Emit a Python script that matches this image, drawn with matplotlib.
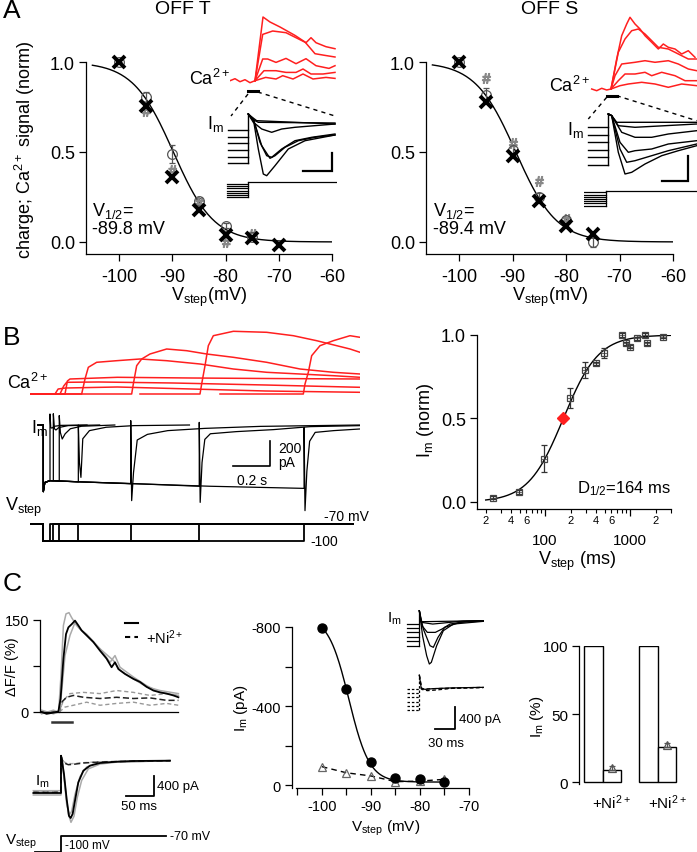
import numpy as np
import matplotlib
matplotlib.use('Agg')
import matplotlib.pyplot as plt
from matplotlib.lines import Line2D
from matplotlib.ticker import FixedLocator, FixedFormatter

plt.rcParams['font.family'] = ['Liberation Sans', 'DejaVu Sans']
plt.rcParams['mathtext.fontset'] = 'custom'
plt.rcParams['mathtext.rm'] = 'Liberation Sans'
plt.rcParams['mathtext.it'] = 'Liberation Sans:italic'
plt.rcParams['mathtext.default'] = 'regular'
plt.rcParams['axes.unicode_minus'] = False
plt.rcParams['axes.linewidth'] = 0.9

RED = '#ff1f1f'

# ---------------- DATA ----------------
# Panel A, OFF T
aT_x_v = [-100, -95, -90, -85, -80, -75, -70]
aT_x_y = [1.0, 0.755, 0.36, 0.176, 0.04, 0.02, -0.015]
aT_c_v = [-100, -95, -90, -85, -80, -75]
aT_c_y = [1.0, 0.805, 0.49, 0.225, 0.09, 0.03]
aT_c_e = [0.0, 0.03, 0.05, 0.02, 0.015, 0.01]
aT_h_v = [-95, -90, -85, -80, -75]
aT_h_y = [0.73, 0.40, 0.22, 0.0, 0.046]
aT_vhalf = -89.8
# Panel A, OFF S
aS_x_v = [-100, -95, -90, -85, -80, -75]
aS_x_y = [1.0, 0.775, 0.48, 0.23, 0.09, 0.045]
aS_c_v = [-100, -95, -90, -85, -80, -75]
aS_c_y = [1.0, 0.815, 0.51, 0.25, 0.12, 0.0]
aS_c_e = [0.0, 0.04, 0.03, 0.02, 0.02, 0.03]
aS_h_v = [-95, -90, -85, -80]
aS_h_y = [0.91, 0.55, 0.34, 0.125]
aS_vhalf = -89.4
A_SLOPE = 3.8

# A insets: Ca traces (t, amplitude)
caT_base_t = [0, 5, 10, 15, 20, 25]
caT_base_y = [0, 2, -1, 1, -2, 0]
caT_traces = [
    ([25, 33, 40, 50, 65, 75, 85, 95, 105], [0, 63.7, 58.7, 53.7, 45.3, 38.7, 27, 25.3, 23.7]),
    ([25, 32.7, 42.7, 56, 66, 76, 81, 86, 96, 105], [0, 46.3, 49.7, 48, 43, 38, 43, 38, 34, 32]),
    ([25, 32.7, 37.7, 46, 56, 66, 76, 86, 99, 105], [0, 21.7, 21.7, 18.3, 22.3, 17, 22, 15, 12.3, 15]),
    ([25, 34, 46, 56, 66, 73, 81, 93, 105], [0, 10, 10, 8.3, 8.3, 11.7, 6.7, 6.7, 8.3]),
    ([25, 35.7, 46, 52.7, 63, 73, 83, 96, 105], [0, 3.3, 1.7, 5, 1.7, 6.7, 1.7, 3.3, 2.3]),
]
caS_base_t = [1.7, 6.7, 11.7, 16.7, 21]
caS_base_y = [0, -1.7, 0.7, -1, 0]
caS_traces = [
    ([21, 26.7, 31.7, 36.7, 40, 45, 50, 55, 61.7, 68.3, 73.3, 78.3, 85, 91.7, 98.3, 105],
     [0, 30, 53.3, 65, 71.7, 65, 60, 53.3, 46.7, 40, 45, 41.7, 40, 35, 38.3, 31.7]),
    ([21, 28.3, 35, 41.7, 48.3, 55, 61.7, 68.3, 78.3, 85, 91.7, 98.3, 106.7],
     [0, 36.7, 50, 58.3, 60, 55, 48.3, 41.7, 40, 36.7, 33.3, 30, 30]),
    ([21, 25, 31.7, 45, 55, 65, 78.3, 88.3, 98.3, 106.7], [0, 13.3, 25, 26.7, 28.3, 26.7, 28.3, 25, 20, 18.3]),
    ([21, 28.3, 35, 45, 55, 61.7, 71.7, 85, 95, 106.7], [0, 8.3, 15, 15, 16.7, 13.3, 16.7, 13.3, 8.3, 8.3]),
    ([21, 30, 38.3, 51.7, 65, 78.3, 91.7, 106.7], [0, 3.3, 5, 6.7, 5, 1.7, 5, 3.3]),
]
# A insets: membrane current traces (t, I) after the step
imT_pre = [-6, -12.7, -19.3, -26, -32.7, -39.3]
imT_spike = 10
imT_traces = [
    ([1.7, 8.4, 86.7], [8.3, 3.3, 0]),
    ([3.4, 10, 86.7], [5, 1.7, 1]),
    ([5, 13.4, 23.4, 33.4, 46.7, 86.7], [1.7, -5, -8.3, -5, -3.3, 0]),
    ([5, 11.7, 18.4, 23.4, 33.4, 46.7, 63.4, 86.7], [5, -18.3, -31.7, -33.3, -25, -16.7, -13.3, -10]),
    ([5, 13.4, 21.7, 26.7, 36.7, 50, 66.7, 86.7], [5, -21.7, -34.3, -31.7, -23.3, -16.7, -13.3, -11]),
    ([5, 10, 15, 18.4, 26.7, 40, 56.7, 86.7], [5, -25, -50, -51.7, -41.7, -25, -16.7, -11]),
]
imS_pre = [-5, -12.7, -20, -27.7, -35, -42.7]
imS_spike = 8.3
imS_traces = [
    ([3.4, 8.4, 88.4], [6.6, 0, 0]),
    ([3.4, 10, 26.7, 88.4], [6.6, -3.4, -5, -1.7]),
    ([3.4, 13.4, 26.7, 43.4, 60, 88.4], [6.6, -10, -15, -15, -11.7, -8.4]),
    ([3.4, 11.7, 20, 26.7, 43.4, 60, 88.4], [6.6, -20, -30, -28.4, -26.7, -21.7, -18.4]),
    ([3.4, 11.7, 18.4, 26.7, 43.4, 60, 88.4], [6.6, -26.7, -40, -38.4, -33.4, -28.4, -21.7]),
    ([3.4, 10, 16.7, 23.4, 36.7, 53.4, 70, 88.4], [6.6, -30, -51.7, -50, -41.7, -33.4, -28.4, -23.4]),
]
step_pre_mv = [-100, -95, -90, -85, -80, -75, -70]
step_post_mv = -66

# Panel B left: step durations (ms)
b_dur = [36, 54, 86, 189, 472, 842, 1408]
b_hold_t = [0, 8, 36, 200, 500, 900]
b_hold_I = [-533, -460, -445, -455, -470, -490]
b_tails = [
    ([0, 0, 4, 10, 25, 60, 200], [-445, 88, -20, -25, -10, -3, 0]),
    ([0, 0, 6, 14, 30, 80, 250], [-446, 90, -30, -40, -20, -5, 0]),
    ([0, 0, 6, 16, 32, 60, 120, 300], [-447, 75, -60, -112, -70, -30, -10, 0]),
    ([0, 0, 6, 14, 24, 60, 150, 300, 600], [-455, 0, -300, -419, -110, -45, -18, -5, 0]),
    ([0, 0, 5, 15, 35, 90, 200, 400, 700, 1240], [-470, 35, -605, -380, -120, -75, -45, -27, -11, 0]),
    ([0, 0, 5, 15, 30, 60, 200, 400, 600, 870], [-490, 21, -619, -300, -115, -70, -53, -37, -13, -5]),
    ([0, 0, 5, 15, 30, 60, 160, 300], [-507, -19, -685, -370, -130, -59, -45, -32]),
]
b_im_start = -29
b_ca = [
    ([-72, 63, 80, 120, 400, 800, 1200, 1710], [0, 0, 5, 6, 7, 5, 3, 1.7]),
    ([-72, 90, 110, 126, 300, 700, 1200, 1710], [0, 0, 8, 11.7, 12, 11, 9, 6.7]),
    ([-72, 117, 130, 144, 400, 800, 1200, 1710], [0, 0, 13, 15, 16.7, 16, 15.5, 15]),
    ([-72, 207, 225, 243, 288, 396, 522, 666, 846, 1026, 1206, 1386, 1566, 1710],
     [0, 0, 15, 26.7, 31.7, 33.3, 35, 33.3, 30, 25, 21.7, 20, 18.3, 16.7]),
    ([-72, 477, 486, 504, 531, 576, 666, 774, 882, 1026, 1206, 1386, 1566, 1710],
     [0, 0, 10, 28.3, 35, 40, 45, 43.3, 40, 36.7, 31.7, 25, 21.7, 20]),
    ([522, 846, 855, 873, 891, 918, 1026, 1206, 1350, 1476, 1656, 1710],
     [0, 0, 10, 28.3, 48.3, 58.3, 62.7, 61.7, 58.3, 53.3, 45, 41.7]),
    ([954, 1404, 1413, 1431, 1449, 1494, 1566, 1656, 1710],
     [0, 0, 10, 21.7, 38.3, 48.3, 53.3, 58.3, 56.7]),
]

# Panel B right
br_x = [24.4, 49, 97, 197, 295, 398, 494, 806, 897, 1000, 1200, 1510, 1590, 2440]
br_y = [0.026, 0.06, 0.26, 0.62, 0.79, 0.83, 0.89, 1.0, 0.95, 0.93, 0.98, 1.0, 0.95, 0.99]
br_e = [0.01, 0.01, 0.08, 0.06, 0.05, 0.01, 0.03, 0.01, 0.01, 0.01, 0.01, 0.01, 0.01, 0.01]
br_d_half = 164
br_hill = 2.1

# Panel C left: dF/F traces (ms, %)
cf_black = ([8, 33, 67, 92, 103, 117, 130, 142, 158, 175, 192, 208, 233, 267, 300, 333, 358, 375, 392, 425, 467, 500, 533, 567, 600, 633, 667, 692],
            [0, -3, -1, 1, 22, 87, 127, 138, 143, 149, 141, 133, 125, 114, 100, 87, 73, 81, 70, 62, 54, 49, 41, 35, 32, 30, 27, 24])
cf_gray1 = ([8, 67, 93, 105, 117, 130, 145, 158, 183, 217, 267, 300, 350, 375, 400, 467, 533, 600, 692],
            [3, -3, 0, 60, 141, 160, 162, 154, 141, 130, 114, 103, 81, 92, 73, 57, 43, 32, 27])
cf_gray2 = ([8, 67, 97, 108, 125, 150, 175, 200, 233, 300, 367, 400, 467, 533, 600, 692],
            [-3, 3, -1, 32, 92, 125, 146, 135, 127, 103, 84, 68, 54, 41, 35, 30])
cf_ni_black = ([8, 97, 108, 133, 167, 217, 300, 383, 467, 550, 633, 692],
               [0, 0, 16, 24, 27, 24, 22, 24, 22, 23, 19, 19])
cf_ni_gray1 = ([97, 117, 150, 217, 300, 383, 467, 550, 633, 692], [0, 19, 30, 32, 30, 35, 32, 27, 30, 27])
cf_ni_gray2 = ([97, 125, 167, 233, 300, 383, 467, 550, 633, 692], [0, 8, 11, 16, 11, 14, 16, 11, 14, 11])
cf_bar = [58, 158]

# Panel C left: current traces (ms, pA)
ci_black = ([-50.6, 0, 0, 1.8, 5.5, 10.4, 14.6, 17.7, 21.4, 25.6, 31.7, 40.9, 53.1, 71.4, 101.9, 132.4, 199.5],
            [-669, -669, 103, 0, -276, -800, -1142, -1187, -1100, -830, -450, -207, -103, -48, -21, -7, 0])
ci_gray1 = ([-50.6, 0, 0, 3, 7.3, 13.4, 18.3, 23.8, 29.9, 37.8, 50, 71.4, 101.9, 199.5],
            [-621, -621, 103, -60, -500, -1100, -1276, -1150, -760, -410, -170, -70, -30, 0])
ci_gray2 = ([-50.6, 0, 0, 1.8, 5.5, 10.4, 15.3, 19.5, 25.6, 34.8, 47, 71.4, 199.5],
            [-710, -710, 103, 0, -350, -900, -1120, -1050, -700, -330, -130, -40, 0])
ci_ni_black = ([-50.6, 0, 0, 3, 7.3, 13.4, 22.6, 40.9, 71.4, 132.4, 199.5],
               [-655, -655, 103, 0, -55, -83, -76, -48, -28, -10, 0])
ci_ni_gray = ([-50.6, 0, 0, 4.3, 10.4, 19.5, 40.9, 71.4, 199.5],
              [-640, -640, 103, -14, -55, -62, -41, -21, -5])
cv_t = [-47.6, 0, 0, 193]
cv_v = [-100, -100, -70, -70]

# Panel C middle
cm_v = [-100, -95, -90, -85, -80, -75]
cm_ctrl = [-797, -484, -118, -37, -29, -15]
cm_ni = [-93, -62, -46, -17, -20, -29]
cm_fit = dict(amp=-839, vh=-94.5, k=2.1, off=-15)
cmi_pre = [-62, -142, -216, -296, -382, -475]
cmi_spike = 185
cmi_traces = [
    ([0, 2, 6, 96], [185, -18, -18, 0]),
    ([0, 3, 20, 36, 66, 96], [185, -30, -62, -43, -6, 0]),
    ([0, 4, 12, 24, 34, 46, 71, 96], [185, -93, -216, -216, -154, -62, -12, 0]),
    ([0, 6, 16, 21, 28, 38, 61, 96], [185, -154, -463, -493, -308, -123, -31, -6]),
    ([0, 5, 11, 15, 18, 26, 36, 51, 96], [185, -290, -648, -802, -771, -463, -185, -62, -12]),
]
cmn_pre = [-31, -111, -185, -265, -339, -419]
cmn_spike = 228
cmn_solid = ([0, 3, 10, 20, 45, 96], [228, -31, -37, -25, -12, 0])
cmn_dash = [([0, 4, 12, 25, 50, 96], [228, -40, -62, -50, -18, -6]),
            ([0, 3, 8, 20, 96], [228, -20, -31, -25, 0])]

# Panel C right
cr_pos = [0, 1, 3, 4]
cr_val = [100, 9, 100, 26]
cr_tri_x = [1, 4]
cr_tri_y = [10, 27]
cr_tri_e = [1.5, 1.5]

# ---------------- LAYOUT ----------------
W, H = 697, 853
fig = plt.figure(figsize=(W / 100, H / 100), dpi=100)


def box(x0, y0, x1, y1):
    return fig.add_axes([x0 / W, 1 - y1 / H, (x1 - x0) / W, (y1 - y0) / H])


def ftext(x, y, s, size=13, ha='left', va='center', **kw):
    fig.text(x / W, 1 - y / H, s, fontsize=size, ha=ha, va=va, **kw)


def fline(xs, ys, **kw):
    fig.add_artist(Line2D([x / W for x in xs], [1 - y / H for y in ys], **kw))


def noclip(container):
    for a in container.get_children():
        try:
            a.set_clip_on(False)
        except Exception:
            pass


def style_main(ax, size=13):
    for s in ('top', 'right'):
        ax.spines[s].set_visible(False)
    ax.tick_params(direction='out', length=5, width=0.9, labelsize=size, pad=3)


def draw_A(ax, xv, xy, cv, cy, ce, hv, hy, vhalf):
    vgrid = np.linspace(-105, -60, 200)
    ax.plot(vgrid, 1 / (1 + np.exp((vgrid - vhalf) / A_SLOPE)), color='k', lw=1)
    eb = ax.errorbar(cv, cy, yerr=ce, fmt='o', ms=7, mfc='none', mec='#555', mew=0.9,
                     ecolor='#555', elinewidth=0.9, capsize=2.5, zorder=3)
    noclip(eb)
    ax.plot(hv, hy, ls='none', marker='$\\#$', ms=7, color='#888', clip_on=False, zorder=3)
    ax.plot(xv, xy, ls='none', marker='x', ms=8, mew=2.8, color='k', clip_on=False, zorder=4)
    ax.set_xlim(-106.2, -60)
    ax.set_ylim(-0.067, 1.0)
    ax.set_xticks([-100, -90, -80, -70, -60])
    ax.set_yticks([0, 0.5, 1.0])
    ax.set_yticklabels(['0.0', '0.5', '1.0'])
    style_main(ax)
    ax.tick_params(axis='x', pad=5)


# Panel A main axes
axAT = box(86, 63, 332, 255)
draw_A(axAT, aT_x_v, aT_x_y, aT_c_v, aT_c_y, aT_c_e, aT_h_v, aT_h_y, aT_vhalf)
axAS = box(426, 63, 673, 255)
draw_A(axAS, aS_x_v, aS_x_y, aS_c_v, aS_c_y, aS_c_e, aS_h_v, aS_h_y, aS_vhalf)

ftext(3, 11, 'A', size=19)
ftext(183, 10, 'OFF T', size=14, ha='center')
ftext(550, 10, 'OFF S', size=14, ha='center')
ftext(25, 150, 'charge; Ca$^{2+}$ signal (norm)', rotation=90, ha='center')
ftext(209, 297, 'V$_{step}$(mV)', ha='center')
ftext(550, 297, 'V$_{step}$(mV)', ha='center')
ftext(92, 211, 'V$_{1/2}$=')
ftext(92, 230, '-89.8 mV')
ftext(433, 211, 'V$_{1/2}$=')
ftext(433, 230, '-89.4 mV')


def draw_ca_inset(rect, xlim, ylim, base_t, base_y, traces):
    ax = box(*rect)
    ax.plot(base_t, base_y, color=RED, lw=1.1)
    for t, y in traces:
        ax.plot(t, y, color=RED, lw=1.1)
    ax.set_xlim(*xlim)
    ax.set_ylim(*ylim)
    ax.axis('off')


def draw_im_inset(rect, xlim, ylim, pre, spike, traces, bar):
    ax = box(*rect)
    for p in pre:
        ax.plot([-20, 0], [p, p], color='k', lw=1)
    ax.plot([0, 0], [min(pre), spike], color='k', lw=1)
    for t, y in traces:
        ax.plot([0] + t, [spike] + y, color='k', lw=1)
    bx0, bx1, by0, by1 = bar
    ax.plot([bx0, bx1, bx1], [by0, by0, by1], color='k', lw=1.6, solid_joinstyle='miter')
    ax.set_xlim(*xlim)
    ax.set_ylim(*ylim)
    ax.axis('off')


def draw_steps(rect, xlim, ylim, tpre):
    ax = box(*rect)
    for v in step_pre_mv:
        ax.plot([tpre, 0], [v, v], color='k', lw=0.9)
    ax.plot([0, 0], [min(step_pre_mv), step_post_mv], color='k', lw=0.9)
    ax.plot([0, xlim[1]], [step_post_mv, step_post_mv], color='k', lw=0.9)
    ax.set_xlim(*xlim)
    ax.set_ylim(*ylim)
    ax.axis('off')


# OFF T insets
draw_ca_inset((230, 15, 337, 92), (0, 107), (-10.3, 66.7), caT_base_t, caT_base_y, caT_traces)
draw_im_inset((226, 108, 337, 202), (-22.3, 88.7), (-77, 17), imT_pre, imT_spike, imT_traces,
              (55, 83.4, -46.7, -29))
draw_steps((224, 180, 337, 201), (-24.3, 88.7), (-106, -58.7), -21.6)
ftext(230, 79, 'Ca$^{2+}$', ha='right')
ftext(207, 124, 'I$_{m}$')
fline([248.3, 257.7], [92, 92], color='k', lw=2.2)
fline([248, 231], [95, 117], color='k', lw=1, ls=(0, (3, 3)))
fline([257.7, 335], [93, 117], color='k', lw=1, ls=(0, (3, 3)))

# OFF S insets
draw_ca_inset((588, 15, 697, 100), (-2, 107), (-10, 75), caS_base_t, caS_base_y, caS_traces)
draw_im_inset((585, 108, 697, 186), (-23.3, 88.7), (-62.7, 15.3), imS_pre, imS_spike, imS_traces,
              (53.4, 80, -58.4, -33.7))
draw_steps((584, 188, 697, 210), (-21.6, 88.7), (-107.4, -58), -21.6)
ftext(590, 86, 'Ca$^{2+}$', ha='right')
ftext(567, 130, 'I$_{m}$')
fline([606.7, 616.7], [96.7, 96.7], color='k', lw=2.2)
fline([606.7, 588.3], [98.3, 120], color='k', lw=1, ls=(0, (3, 3)))
fline([616.7, 696.7], [96.7, 121.7], color='k', lw=1, ls=(0, (3, 3)))

# ---------------- Panel B left ----------------
ftext(3, 338, 'B', size=19)
axBca = box(30, 325, 360, 400)
for t, y in b_ca:
    axBca.plot(t, y, color=RED, lw=1.1)
axBca.set_xlim(-72, 1710)
axBca.set_ylim(-5, 70)
axBca.axis('off')
ftext(7, 383, 'Ca$^{2+}$')

axBim = box(30, 410, 360, 520)
for d, (tt, ti) in zip(b_dur, b_tails):
    body = [(h, v) for h, v in zip(b_hold_t, b_hold_I) if h < d]
    t = [b_im_start, 0] + [p[0] for p in body] + [d + x for x in tt]
    y = [0, 0] + [p[1] for p in body] + ti
    axBim.plot(t, y, color='k', lw=0.9)
axBim.plot([1026, 1224, 1224], [-325, -325, -125], color='k', lw=1.2)
axBim.set_xlim(-72, 1710)
axBim.set_ylim(-752, 128)
axBim.axis('off')
ftext(31, 428, 'I$_{m}$')
ftext(278, 449, '200', size=10)
ftext(278, 463, 'pA', size=10)
ftext(252, 481, '0.2 s', size=10, ha='center')

axBv = box(30, 515, 360, 550)
for d in b_dur:
    axBv.plot([-72, 0, 0, d, d, 1674], [-70, -70, -100, -100, -70, -70], color='k', lw=1.3)
axBv.set_xlim(-72, 1710)
axBv.set_ylim(-115, -52)
axBv.axis('off')
ftext(5, 507, 'V$_{step}$')
ftext(324, 517, '-70 mV', size=10)
ftext(310, 542, '-100', size=10)

# ---------------- Panel B right ----------------
axBr = box(477, 336, 671, 510)
tg = np.logspace(np.log10(20), np.log10(3000), 200)
axBr.plot(tg, tg ** br_hill / (tg ** br_hill + br_d_half ** br_hill), color='k', lw=1)
eb = axBr.errorbar(br_x, br_y, yerr=br_e, fmt='s', ms=5, mfc='none', mec='#444', mew=0.9,
                   ecolor='#333', elinewidth=0.9, capsize=2.5, zorder=3)
noclip(eb)
axBr.plot(br_x, br_y, ls='none', marker='+', ms=4, mew=0.6, color='#555', clip_on=False)
eb = axBr.errorbar([br_d_half], [0.5], xerr=[[16], [18]], yerr=0.025, fmt='D', ms=6,
                   color=RED, mec=RED, ecolor=RED, elinewidth=3, capsize=0, zorder=4)
axBr.set_xscale('log')
axBr.set_xlim(15.8, 3030)
axBr.set_ylim(-0.042, 1.0)
axBr.xaxis.set_major_locator(FixedLocator([100, 1000]))
axBr.xaxis.set_major_formatter(FixedFormatter(['100', '1000']))
minors = [20, 30, 40, 50, 60, 70, 80, 90, 200, 300, 400, 500, 600, 700, 800, 900, 2000, 3000]
mlab = {20: '2', 40: '4', 60: '6', 200: '2', 400: '4', 600: '6', 2000: '2'}
axBr.xaxis.set_minor_locator(FixedLocator(minors))
axBr.xaxis.set_minor_formatter(FixedFormatter([mlab.get(m, '') for m in minors]))
axBr.set_yticks([0, 0.5, 1.0])
axBr.set_yticklabels(['0.0', '0.5', '1.0'])
style_main(axBr)
axBr.tick_params(axis='x', which='major', length=5, labelsize=11, pad=12)
axBr.tick_params(axis='x', which='minor', length=3, width=0.8, labelsize=8, pad=1)
ftext(426, 420, 'I$_{m}$ (norm)', rotation=90, ha='center')
ftext(577, 561, 'V$_{step}$ (ms)', ha='center')
ftext(577, 489, 'D$_{1/2}$=164 ms', size=12)

# ---------------- Panel C left ----------------
ftext(3, 584, 'C', size=19)
axCf = box(40, 621, 178, 713)
for t, y in (cf_ni_gray1, cf_ni_gray2):
    axCf.plot(t, y, color='#999', lw=1, ls=(0, (3, 2)), clip_on=False)
axCf.plot(*cf_ni_black, color='#222', lw=1.1, ls=(0, (4, 2)), clip_on=False)
for t, y in (cf_gray1, cf_gray2):
    axCf.plot(t, y, color='#aaa', lw=1.1, clip_on=False)
axCf.plot(*cf_black, color='k', lw=1.3, clip_on=False)
axCf.plot(cf_bar, [-17, -17], color='#333', lw=1.8, clip_on=False)
axCf.set_xlim(0, 690)
axCf.set_ylim(0, 150)
axCf.set_yticks([0, 75, 150])
axCf.set_yticklabels(['0', '', '150'])
axCf.set_xticks([])
style_main(axCf, size=10.5)
ftext(12, 667, '\u0394F/F (%)', size=10.5, rotation=90, ha='center')
fline([125, 138.3], [624, 624], color='k', lw=1.5)
fline([125, 138.3], [638, 638], color='k', lw=1.5, ls=(0, (2.5, 2)))
ftext(146, 638, '+Ni$^{2+}$', size=10.5)

axCi = box(30, 745, 200, 830)
axCi.plot(*ci_ni_gray, color='#aaa', lw=1, ls=(0, (3, 2)))
axCi.plot(*ci_gray1, color='#aaa', lw=1.1)
axCi.plot(*ci_gray2, color='#aaa', lw=1.1)
axCi.plot(*ci_ni_black, color='#222', lw=1.1, ls=(0, (4, 2)))
axCi.plot(*ci_black, color='k', lw=1.3)
axCi.plot([119.6, 170.2, 170.2], [-724, -724, -324], color='k', lw=1.3)
axCi.set_xlim(-56.7, 254.4)
axCi.set_ylim(-1414, 345)
axCi.axis('off')
ftext(35, 782, 'I$_{m}$', size=11)
ftext(157, 787, '400 pA', size=9.5)
ftext(139, 807, '50 ms', size=9.5, ha='center')

axCv = box(30, 830, 200, 853)
axCv.plot(cv_t, cv_v, color='k', lw=1.3)
axCv.set_xlim(-56.7, 254.4)
axCv.set_ylim(-100.5, -56)
axCv.axis('off')
ftext(5, 842, 'V$_{step}$', size=11)
ftext(170, 837, '-70 mV', size=9)
ftext(65, 846, '-100 mV', size=8.5)

# ---------------- Panel C middle ----------------
axCm = box(292, 628, 469, 789)
vg = np.linspace(-100, -75, 200)
axCm.plot(vg, cm_fit['amp'] / (1 + np.exp((vg - cm_fit['vh']) / cm_fit['k'])) + cm_fit['off'],
          color='k', lw=1)
axCm.plot(cm_v, cm_ni, color='k', lw=1, ls=(0, (4, 3)))
axCm.plot(cm_v, cm_ni, ls='none', marker='^', ms=6, mfc='none', mec='#666', mew=0.9, zorder=3)
axCm.plot(cm_v, cm_ctrl, ls='none', marker='o', ms=6.5, color='k', zorder=4, clip_on=False)
axCm.set_xlim(-106.1, -70)
axCm.set_ylim(15, -800)
axCm.spines['bottom'].set_bounds(-105.3, -70)
axCm.set_xticks([-100, -90, -80, -70])
axCm.set_xticks([-105, -95, -85, -75], minor=True)
axCm.set_yticks([-800, -600, -400, -200, 0])
axCm.set_yticklabels(['-800', '', '-400', '', '0'])
style_main(axCm, size=10.5)
axCm.tick_params(axis='x', which='minor', direction='out', length=5, width=0.9)
ftext(241, 708, 'I$_{m}$ (pA)', size=11, rotation=90, ha='center')
ftext(386, 828, 'V$_{step}$ (mV)', size=11, ha='center')

axCmi = box(400, 605, 490, 670)
for p in cmi_pre:
    axCmi.plot([-19, 0], [p, p], color='k', lw=0.9)
axCmi.plot([0, 0], [min(cmi_pre), cmi_spike], color='k', lw=0.9)
for t, y in cmi_traces:
    axCmi.plot(t, y, color='k', lw=0.9)
axCmi.set_xlim(-29, 106)
axCmi.set_ylim(-894, 309)
axCmi.axis('off')
ftext(387, 619, 'I$_{m}$', size=11)

axCmn = box(400, 670, 490, 750)
for p in cmn_pre:
    axCmn.plot([-19, 0], [p, p], color='k', lw=0.9, ls=(0, (2, 1.5)))
axCmn.plot([0, 0], [min(cmn_pre), cmn_spike], color='k', lw=0.9, ls=(0, (2, 1.5)))
axCmn.plot(*cmn_solid, color='k', lw=0.9)
for t, y in cmn_dash:
    axCmn.plot(t, y, color='k', lw=0.9, ls=(0, (3, 2)))
axCmn.plot([23.5, 53.5, 53.5], [-770, -770, -370], color='k', lw=1.3)
axCmn.set_xlim(-29, 106)
axCmn.set_ylim(-1141, 339)
axCmn.axis('off')
ftext(459, 720, '400 pA', size=9.5)
ftext(446, 744, '30 ms', size=9.5, ha='center')

# ---------------- Panel C right ----------------
axCr = box(579, 647, 680, 785)
axCr.bar(cr_pos, cr_val, width=1, color='white', edgecolor='k', lw=1)
eb = axCr.errorbar(cr_tri_x, cr_tri_y, yerr=cr_tri_e, fmt='^', ms=5.5, mfc='none', mec='#555',
                   mew=0.9, ecolor='#555', elinewidth=0.8, capsize=2)
axCr.set_xlim(-0.78, 4.7)
axCr.set_ylim(-1.47, 100)
axCr.set_yticks([0, 50, 100])
axCr.set_xticks([1, 4])
axCr.set_xticklabels(['+Ni$^{2+}$', '+Ni$^{2+}$'])
style_main(axCr, size=11)
axCr.spines['bottom'].set_visible(False)
axCr.tick_params(axis='x', length=0, pad=6)
ftext(537, 717, 'I$_{m}$ (%)', size=11, rotation=90, ha='center')

fig.savefig('out.png', dpi=100)
